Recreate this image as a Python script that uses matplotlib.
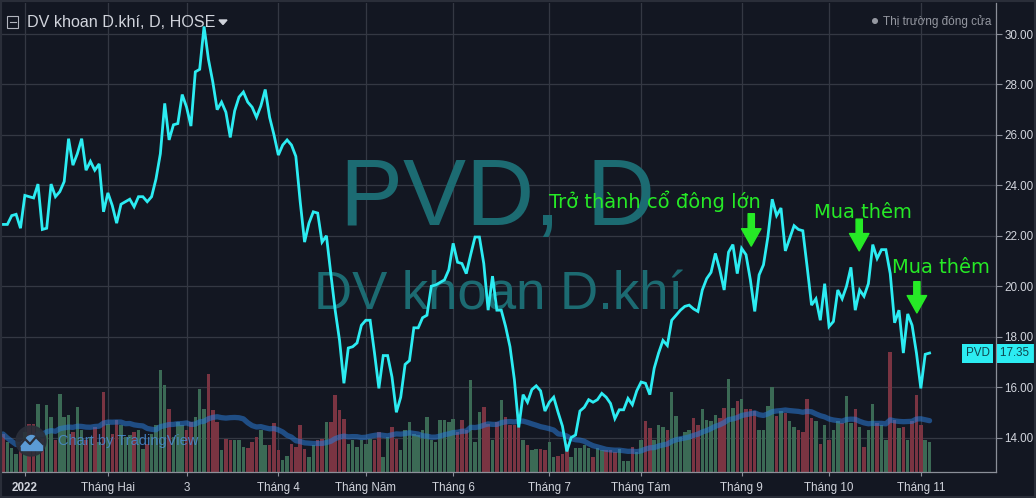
import numpy as np
import pandas as pd
import matplotlib
matplotlib.use("Agg")
import matplotlib.pyplot as plt
from matplotlib.patches import Rectangle, Circle, Polygon
from matplotlib.transforms import blended_transform_factory


# Gia dong cua PVD (nghin dong), mot gia tri cho moi phien
gia_dong_cua = [
    22.45, 22.45, 22.8, 22.85, 22.3, 23.6, 23.55, 23.5, 24.05, 22.25,
    22.3, 24.05, 23.55, 23.75, 24.15, 25.85, 24.8, 25.25, 25.85, 24.6,
    24.95, 24.6, 24.85, 22.95, 23.7, 23.2, 22.5, 23.25, 23.35, 23.45,
    23.15, 23.55, 23.55, 23.35, 23.55, 24.25, 25.25, 27.25, 25.8, 26.4,
    26.45, 27.6, 27.1, 26.35, 28.5, 28.6, 30.3, 29.0, 28.1, 27.0,
    27.3, 26.9, 25.9, 26.95, 27.5, 27.7, 27.3, 27.1, 26.7, 27.15,
    27.8, 26.7, 26.0, 25.2, 25.6, 25.8, 25.6, 25.15, 23.35, 21.75,
    22.5, 22.95, 22.9, 21.75, 22.0, 20.5, 19.05, 17.85, 16.15, 17.55,
    17.6, 17.75, 18.45, 18.65, 18.65, 17.35, 15.95, 17.25, 17.25, 16.4,
    15.0, 15.6, 16.9, 17.05, 18.35, 18.35, 18.75, 18.85, 20.0, 20.05,
    20.15, 20.25, 20.65, 21.7, 20.95, 20.9, 20.5, 21.25, 21.95, 21.95,
    20.9, 19.05, 20.4, 19.05, 19.05, 18.4, 17.6, 16.3, 14.4, 15.7,
    15.4, 15.9, 16.05, 15.85, 15.05, 15.4, 15.6, 15.0, 14.45, 13.45,
    14.0, 14.1, 15.05, 15.2, 15.5, 15.4, 15.5, 15.75, 15.6, 15.35,
    14.75, 15.1, 15.1, 15.55, 15.3, 15.85, 16.2, 16.15, 15.7, 16.75,
    17.35, 17.85, 17.65, 18.65, 18.85, 19.05, 19.2, 19.25, 19.1, 19.0,
    19.85, 20.3, 20.55, 21.3, 20.65, 19.85, 21.35, 21.65, 20.5, 21.5,
    21.25, 20.25, 19.0, 20.45, 20.85, 21.95, 23.45, 22.8, 23.1, 21.4,
    21.9, 22.4, 22.25, 22.2, 20.75, 19.25, 19.5, 18.65, 20.1, 18.4,
    18.6, 19.85, 19.5, 20.0, 20.75, 19.05, 19.85, 19.6, 20.1, 21.65,
    21.1, 21.45, 21.45, 20.5, 18.55, 19.05, 17.35, 18.9, 18.45, 17.35,
    15.95, 17.3, 17.35,
]

# Khoi luong khop lenh (x100 nghin cp)
khoi_luong = [
    38, 30, 24, 18, 28, 40, 48, 48, 68, 33,
    67, 55, 32, 78, 55, 57, 40, 65, 42, 32,
    35, 45, 30, 80, 48, 38, 52, 47, 35, 37,
    40, 42, 23, 28, 38, 47, 102, 87, 63, 35,
    50, 47, 42, 50, 55, 83, 63, 98, 62, 50,
    22, 33, 32, 32, 32, 25, 24, 30, 35, 42,
    27, 27, 49, 22, 12, 16, 28, 25, 47, 23,
    15, 27, 32, 33, 50, 50, 77, 62, 53, 28,
    32, 25, 32, 28, 33, 32, 40, 15, 35, 45,
    33, 22, 42, 50, 38, 37, 42, 55, 32, 30,
    52, 52, 50, 53, 40, 52, 42, 92, 30, 60,
    65, 48, 32, 50, 72, 55, 47, 47, 47, 32,
    27, 22, 23, 23, 22, 30, 15, 16, 18, 28,
    15, 24, 24, 27, 24, 15, 24, 22, 22, 22,
    20, 23, 11, 11, 25, 20, 32, 51, 44, 32,
    47, 45, 42, 80, 56, 35, 40, 42, 54, 47,
    63, 52, 51, 57, 54, 64, 93, 64, 71, 73,
    63, 63, 61, 42, 42, 66, 85, 56, 61, 59,
    51, 45, 42, 40, 73, 54, 51, 28, 47, 32,
    42, 51, 49, 76, 49, 63, 45, 25, 42, 68,
    49, 47, 32, 120, 52, 44, 45, 32, 51, 77,
    47, 32, 30,
]

# phien dau tien cua moi thang
moc_thang = [5, 24, 42, 63, 83, 103, 125, 146, 169, 189, 210]
nhan_thang = ["2022", "Tháng Hai", "3", "Tháng 4", "Tháng Năm", "Tháng 6",
              "Tháng 7", "Tháng Tám", "Tháng 9", "Tháng 10", "Tháng 11"]
moc_gia = [14, 16, 18, 20, 22, 24, 26, 28, 30]

# cac phien co ghi chu giao dich
ghi_chu = ["Trở thành cổ đông lớn", "Mua thêm", "Mua thêm"]
phien_ghi_chu = [171.2, 195.9, 209.1]

W, H = 1036, 498
NEN = "#131722"
LUOI = "#343843"
CHU = "#d1d4dc"
XANH_GIA = "#2cecf2"
XANH_LA = "#26ea26"
MO = "#1c6b72"

plt.rcParams["font.family"] = ["Liberation Sans", "DejaVu Sans"]

fig = plt.figure(figsize=(W / 100, H / 100), dpi=100, facecolor=NEN)
vi_tri = [2 / W, (H - 472) / H, 994 / W, 469 / H]
ax_kl = fig.add_axes(vi_tri, zorder=1)
ax = fig.add_axes(vi_tri, zorder=2)
ax_deco = fig.add_axes([0, 0, 1, 1], zorder=5)
ax_deco.set_xlim(0, W)
ax_deco.set_ylim(H, 0)
ax_deco.axis("off")

phien = np.arange(len(gia_dong_cua))
for a in (ax, ax_kl):
    a.set_xlim(-0.23, 227.2)
ax.set_ylim(12.633, 31.23)
ax_kl.set_ylim(0, 469)

# --- lop duoi: nen, luoi, chu mo, khoi luong
ax_kl.set_facecolor(NEN)
ax_kl.set_xticks([])
ax_kl.set_yticks([])
for s in ax_kl.spines.values():
    s.set_visible(False)

for m in moc_thang:
    ax_kl.axvline(m, color=LUOI, lw=0.9, zorder=0)
tr_gia = blended_transform_factory(ax_kl.transAxes, ax.transData)
for g in moc_gia:
    ax_kl.plot([0, 1], [g, g], color=LUOI, lw=0.9, transform=tr_gia, zorder=0)

ax_kl.text(497 / W, 1 - 225 / H, "PVD, D", transform=fig.transFigure,
           ha="center", va="baseline", fontsize=68, color=MO, zorder=0.5)
ax_kl.text(498 / W, 1 - 309 / H, "DV khoan D.khí", transform=fig.transFigure,
           ha="center", va="baseline", fontsize=38, color=MO, zorder=0.5)

bien_dong = np.diff(gia_dong_cua, prepend=np.inf)
mau_cot = np.where(bien_dong >= 0, "#3b6a55", "#7a3442")
ax_kl.bar(phien, khoi_luong, width=0.8, color=mau_cot, zorder=1)
kl_tb = pd.Series(khoi_luong).rolling(20, min_periods=1).mean()
ax_kl.plot(phien, kl_tb, color="#2a7ad6", alpha=0.55, lw=3.8,
           solid_capstyle="round", zorder=2)

# --- lop tren: duong gia va truc
ax.patch.set_visible(False)
ax.plot(phien, gia_dong_cua, color=XANH_GIA, lw=2.0, solid_joinstyle="miter", zorder=3)

ax.yaxis.tick_right()
ax.set_yticks(moc_gia, [f"{g:.2f}" for g in moc_gia])
ax.set_xticks(moc_thang, nhan_thang)
ax.get_xticklabels()[0].set_fontweight("bold")
ax.tick_params(axis="y", length=4, width=0.8, color="#8b8f99", pad=2,
               labelsize=8.4, labelcolor=CHU)
ax.tick_params(axis="x", length=3, width=0.8, color="#8b8f99", pad=4,
               labelsize=8.4, labelcolor=CHU)
for ten in ("left", "top"):
    ax.spines[ten].set_visible(False)
for ten in ("right", "bottom"):
    ax.spines[ten].set_color("#8b8f99")
    ax.spines[ten].set_linewidth(0.9)

# nhan gia cuoi
gia_cuoi = gia_dong_cua[-1]
tr_nhan = blended_transform_factory(ax.transAxes, ax.transData)
ax.text(0.9937, gia_cuoi, "PVD", transform=tr_nhan, ha="right", va="center",
        fontsize=8.4, color="#0f4750", clip_on=False, zorder=6,
        bbox=dict(boxstyle="square,pad=0.3", fc=XANH_GIA, ec="none"))
ax.text(1.0045, gia_cuoi, f"{gia_cuoi:.2f}  ", transform=tr_nhan, ha="left",
        va="center", fontsize=8.4, color="#0f4750", clip_on=False, zorder=6,
        bbox=dict(boxstyle="square,pad=0.3", fc=XANH_GIA, ec="none"))

# ghi chu giao dich
vi_tri_chu = [(149.1, 23.1), (196.7, 22.70), (214.6, 20.52)]
dau_mui_ten = [(22.875, 21.59), (22.66, 21.40), (20.18, 18.94)]
for chu, (xc, yc) in zip(ghi_chu, vi_tri_chu):
    ax.text(xc, yc, chu, ha="center", va="baseline", fontsize=14,
            color=XANH_LA, family="DejaVu Sans", zorder=5)
for p, (y0, y1) in zip(phien_ghi_chu, dau_mui_ten):
    ax.annotate("", xy=(p, y1), xytext=(p, y0), zorder=5,
                arrowprops=dict(arrowstyle="simple,head_length=1.25,head_width=1.4,tail_width=0.45",
                                color=XANH_LA, shrinkA=0, shrinkB=0, mutation_scale=10))

# --- trang tri: tieu de, logo, vien
ax_deco.add_patch(Rectangle((0, 0), W, H, fill=False, ec="#2a2e39", lw=3))
ax_deco.add_patch(Rectangle((7, 16), 11, 12, fill=False, ec="#b2b5be", lw=0.8))
ax_deco.plot([9.5, 15.5], [22, 22], color="#b2b5be", lw=0.8)
ax_deco.text(27, 22.5, "DV khoan D.khí, D, HOSE", va="center", ha="left",
             fontsize=11.6, color=CHU)
ax_deco.add_patch(Polygon([(219, 20), (227, 20), (223, 24.5)], color=CHU))
ax_deco.add_patch(Circle((875, 21), 2.3, color="#9598a1"))
ax_deco.text(883, 21.5, "Thị trường đóng cửa", va="center", ha="left",
             fontsize=8.5, color="#9598a1")

ax_deco.add_patch(Circle((31, 441), 15, color="#2a2e39", alpha=0.9))
for cx, cy, r in [(25.5, 445, 4.5), (31.5, 441.5, 6), (37.5, 445, 4.5)]:
    ax_deco.add_patch(Circle((cx, cy), r, color="#5b9bd5"))
ax_deco.add_patch(Rectangle((21, 444), 21, 5.5, color="#5b9bd5"))
ax_deco.plot([19, 25, 30, 36, 43], [446, 439, 444, 437, 444], color="#2a2e39", lw=1.6)
ax_deco.text(58, 441, "Chart by TradingView", va="center", ha="left",
             fontsize=10.5, color="#4a8fd8", alpha=0.8)

fig.savefig("out.png", dpi=100, facecolor=NEN)
